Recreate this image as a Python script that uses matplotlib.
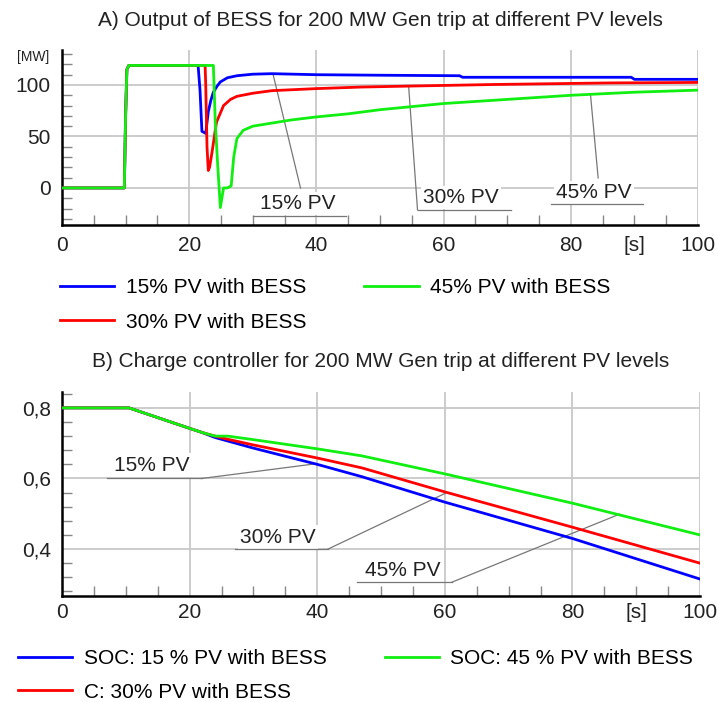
import numpy as np
import matplotlib
matplotlib.use("Agg")
from matplotlib import pyplot as plt
from matplotlib.ticker import MultipleLocator, FuncFormatter

plt.rcParams['font.family'] = ['Liberation Sans', 'DejaVu Sans']

# BESS active power output [MW] vs time [s]
t_15 = [0, 9.8, 10.0, 10.2, 10.5, 21.4, 21.7, 22.0, 22.6, 23.0, 23.4, 23.8, 24.4, 24.9, 26.0, 27.5, 30.0, 33.0, 40.0, 50.0, 62.5, 63.0, 89.5, 90.0, 100.0]
p_15 = [0, 0, 70, 115, 119, 119, 95, 55, 53, 74, 85, 93, 99, 103, 107, 109, 110.5, 111, 110, 109.5, 109, 107.5, 107.5, 105.5, 105.5]

t_30 = [0, 9.8, 10.0, 10.2, 10.5, 22.5, 22.6, 22.8, 23.0, 23.2, 23.6, 24.0, 24.3, 25.4, 26.5, 27.5, 30.0, 33.0, 40.0, 47.0, 55.0, 68.0, 86.0, 100.0]
p_30 = [0, 0, 70, 115, 119, 119, 100, 40, 17, 20, 35, 52, 64, 80, 86, 89, 92, 94.5, 96.5, 98, 99, 100.5, 102, 102.5]

t_45 = [0, 9.8, 10.0, 10.2, 10.5, 23.8, 24.1, 24.5, 24.9, 25.4, 26.0, 26.6, 27.0, 27.5, 28.5, 30, 33, 36, 40, 45, 50, 55, 60, 65, 70, 75, 80, 85, 90, 95, 100]
p_45 = [0, 0, 70, 115, 119, 119, 64, 20, -19, 0, 0, 2, 30, 48, 56, 60, 63, 66, 69, 72, 76, 79, 82, 84, 86, 88, 90, 91.5, 93, 94, 95]

# state of charge vs time [s]
t_soc = [0, 10.5, 20, 22, 24, 26, 30, 40, 47, 60, 80, 100]
soc_15 = [0.8, 0.8, 0.742, 0.73, 0.716, 0.706, 0.686, 0.64, 0.605, 0.533, 0.43, 0.315]
soc_30 = [0.8, 0.8, 0.742, 0.73, 0.72, 0.711, 0.695, 0.658, 0.63, 0.562, 0.462, 0.36]
soc_45 = [0.8, 0.8, 0.742, 0.73, 0.72, 0.72, 0.71, 0.684, 0.664, 0.613, 0.53, 0.44]

BLUE = '#0000ff'
RED = '#ff0000'
GREEN = '#11ee11'
GRID = '#c8c8c8'
LW = 2.0
FS = 15

fig = plt.figure(figsize=(7.18, 7.02), dpi=100)
ax1 = fig.add_axes([62/718, 1-225/702, 636/718, 175/702])
ax2 = fig.add_axes([62/718, 1-596/702, 638/718, 204/702])


def style_axes(ax, xpad):
	for s in ['top', 'right']:
		ax.spines[s].set_visible(False)
	for s in ['left', 'bottom']:
		ax.spines[s].set_linewidth(1.8)
		ax.spines[s].set_color('black')
	ax.grid(True, which='major', color=GRID, linewidth=1.3)
	ax.set_axisbelow(True)
	ax.tick_params(which='major', length=0, labelsize=FS, pad=8, colors='#222222')
	ax.tick_params(axis='x', which='major', pad=xpad)
	ax.tick_params(which='minor', direction='in', length=7, width=1.0, color='#888888')
	ax.set_xlim(0, 100)
	ax.xaxis.set_major_locator(MultipleLocator(20))
	ax.xaxis.set_minor_locator(MultipleLocator(5))
	ax.xaxis.set_major_formatter(FuncFormatter(lambda v, p: '%d' % v))
	# unit label sits where the 90 s tick label would be
	ax.annotate('[s]', xy=(90, 0), xycoords=ax.get_xaxis_transform(), xytext=(0, -xpad),
				textcoords='offset points', ha='center', va='top', fontsize=FS, color='#222222')


def pv_label(ax, txt, xy_text, line_x, line_y, leader):
	ax.text(xy_text[0], xy_text[1], txt, ha='center', va='center', fontsize=FS, color='#222222',
			bbox=dict(boxstyle='square,pad=0.1', fc='white', ec='none'), zorder=3)
	ax.plot(line_x, [line_y, line_y], color='#777777', lw=0.9, zorder=3)
	ax.plot(leader[0], leader[1], color='#777777', lw=0.9, zorder=3)


# A) BESS output
style_axes(ax1, 8)
ax1.set_ylim(-36, 134)
ax1.yaxis.set_minor_locator(MultipleLocator(10))
ax1.set_yticks([0, 50, 100])
ax1.plot(t_15, p_15, color=BLUE, lw=LW, label='15% PV with BESS', zorder=4)
ax1.plot(t_30, p_30, color=RED, lw=LW, label='30% PV with BESS', zorder=4)
ax1.plot(t_45, p_45, color=GREEN, lw=LW, label='45% PV with BESS', zorder=4)
ax1.text(-0.02, 127, '[MW]', transform=ax1.get_yaxis_transform(), ha='right', va='center',
		 fontsize=10, color='#222222')
ax1.set_title('A) Output of BESS for 200 MW Gen trip at different PV levels', fontsize=FS,
			  color='#222222', pad=17)

pv_label(ax1, '15% PV', (37, -15), [30.1, 44.6], -27, ([37.5, 33.2], [0, 110]))
pv_label(ax1, '30% PV', (62.7, -9.5), [55.9, 70.6], -21.4, ([55.9, 54.5], [-21.4, 99]))
pv_label(ax1, '45% PV', (83.6, -4.5), [76.9, 91.3], -15.5, ([84.3, 83.1], [9.7, 90.5]))

fig.legend(*ax1.get_legend_handles_labels(), loc='upper left', bbox_to_anchor=(60/718, 1-278/702),
		   ncol=2, frameon=False, fontsize=FS, handlelength=2.6, handletextpad=0.55,
		   columnspacing=2.8, labelspacing=0.75, borderpad=0, borderaxespad=0)

# B) charge controller
style_axes(ax2, 5)
ax2.set_ylim(0.267, 0.845)
ax2.set_yticks([0.4, 0.6, 0.8])
ax2.yaxis.set_minor_locator(MultipleLocator(0.04))
ax2.yaxis.set_major_formatter(FuncFormatter(lambda v, p: ('%.1f' % v).replace('.', ',')))
ax2.plot(t_soc, soc_15, color=BLUE, lw=LW, label='SOC: 15 % PV with BESS', zorder=4)
ax2.plot(t_soc, soc_30, color=RED, lw=LW, label='C: 30% PV with BESS', zorder=4)
ax2.plot(t_soc, soc_45, color=GREEN, lw=LW, label='SOC: 45 % PV with BESS', zorder=4)
ax2.set_title('B) Charge controller for 200 MW Gen trip at different PV levels', fontsize=FS,
			  color='#222222', pad=18)

pv_label(ax2, '15% PV', (14.1, 0.638), [7.05, 21.9], 0.6, ([21.9, 39.5], [0.6, 0.641]))
pv_label(ax2, '30% PV', (33.9, 0.434), [27.1, 41.7], 0.4, ([41.7, 60.2], [0.4, 0.559]))
pv_label(ax2, '45% PV', (53.4, 0.34), [46.2, 61.1], 0.306, ([61.1, 87.4], [0.306, 0.499]))

fig.legend(*ax2.get_legend_handles_labels(), loc='upper left', bbox_to_anchor=(18/718, 1-649/702),
		   ncol=2, frameon=False, fontsize=FS, handlelength=2.6, handletextpad=0.55,
		   columnspacing=2.8, labelspacing=0.7, borderpad=0, borderaxespad=0)

fig.savefig('out.png', dpi=100)
